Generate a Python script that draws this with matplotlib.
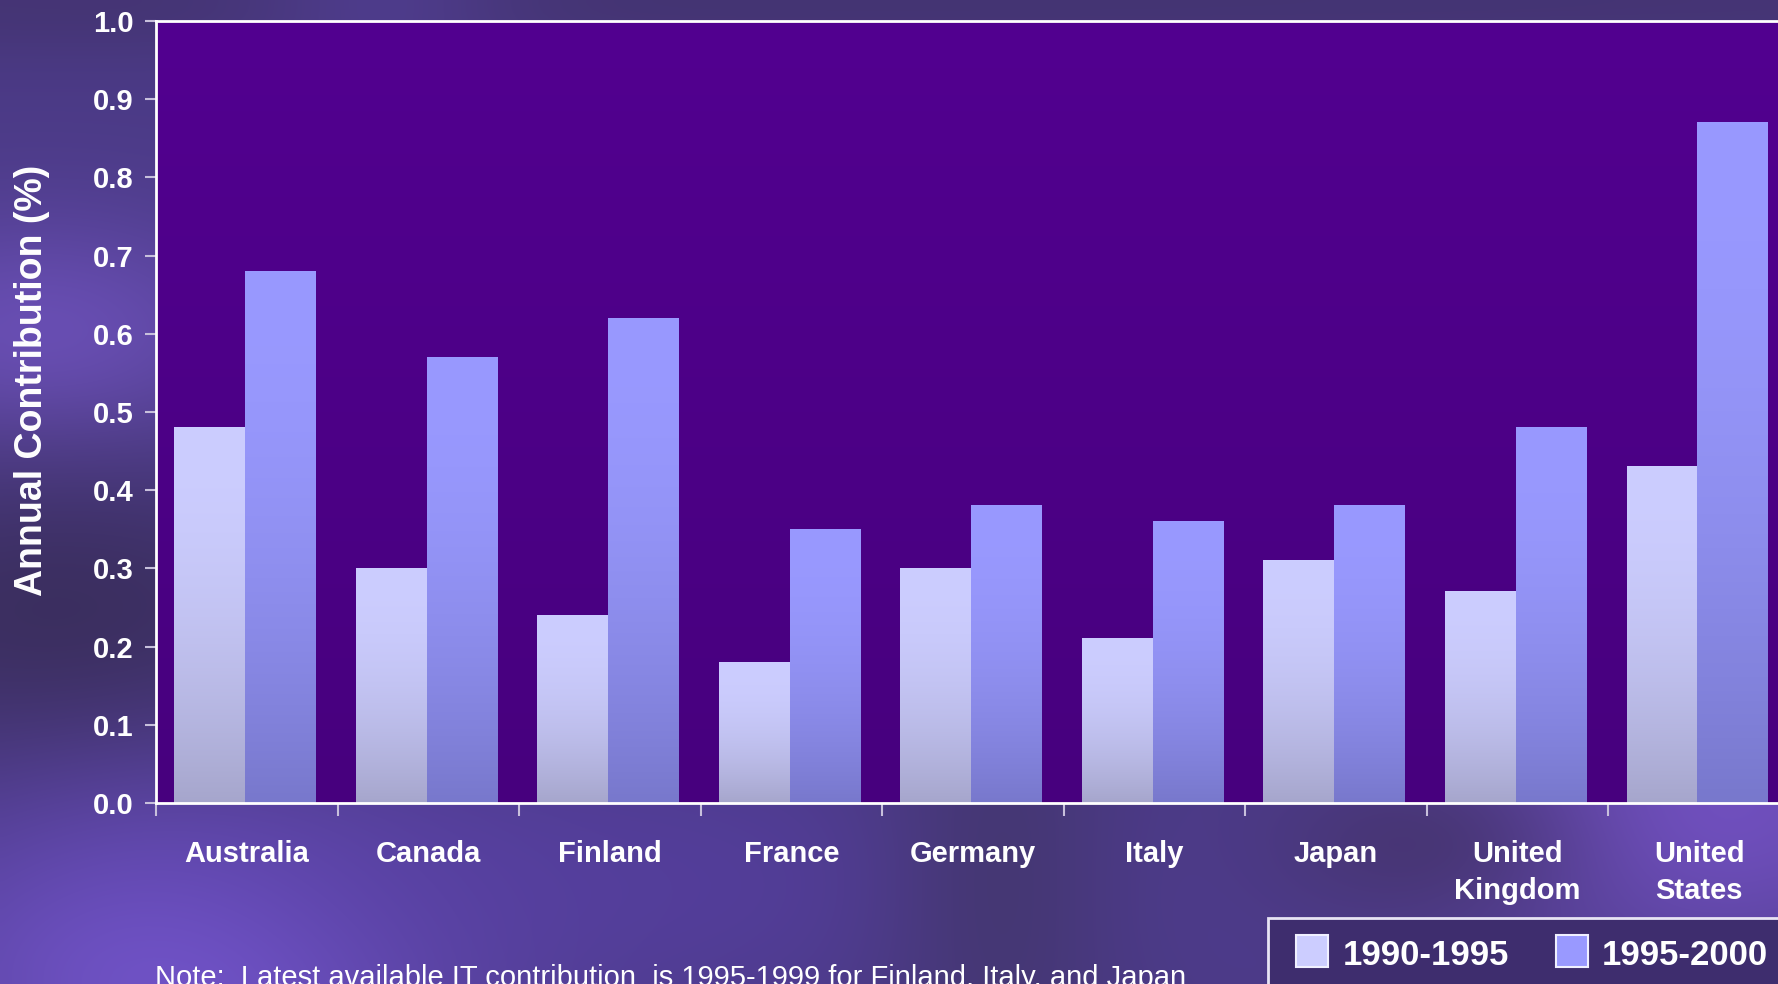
import numpy as np
import matplotlib.pyplot as plt
from matplotlib.colors import to_rgb
from matplotlib.lines import Line2D

# --- IT contribution to annual growth, by country and period
countries = ['Australia', 'Canada', 'Finland', 'France', 'Germany',
             'Italy', 'Japan', 'United\nKingdom', 'United\nStates']
early = [0.48, 0.30, 0.24, 0.18, 0.30, 0.21, 0.31, 0.27, 0.43]   # 1990-1995
late = [0.68, 0.57, 0.62, 0.35, 0.38, 0.36, 0.38, 0.48, 0.87]    # 1995-2000
periods = ['1990-1995', '1995-2000']
note = 'Note:  Latest available IT contribution  is 1995-1999 for Finland, Italy, and Japan'

W, H = 1778, 984
plt.rcParams['font.family'] = ['Liberation Sans', 'DejaVu Sans']


def vgrad(top, bottom, n=200, power=1.0):
    # column of colours running from top to bottom
    t = np.linspace(0, 1, n)[:, None] ** power
    top, bottom = np.array(to_rgb(top)), np.array(to_rgb(bottom))
    return (top * (1 - t) + bottom * t)[:, None, :]


def backdrop():
    yy, xx = np.mgrid[0:H:6, 0:W:6].astype(float)
    img = np.ones(xx.shape + (3,)) * np.array(to_rgb('#4b3a86'))
    blobs = [
        (900, 0, 2000, 40, '#43336f', 0.8),
        (380, 0, 90, 60, '#54409a', 0.6),
        (40, 340, 160, 90, '#6e52bc', 0.9),
        (60, 620, 220, 120, '#392d5a', 0.9),
        (180, 960, 200, 120, '#7a5ad5', 0.9),
        (600, 880, 400, 100, '#5840a6', 0.6),
        (1000, 880, 90, 200, '#413568', 0.7),
        (1720, 800, 180, 120, '#7452c4', 0.9),
        (1420, 840, 110, 60, '#433269', 0.7),
    ]
    for cx, cy, sx, sy, col, s in blobs:
        w = s * np.exp(-0.5 * (((xx - cx) / sx) ** 2 + ((yy - cy) / sy) ** 2))
        img = img * (1 - w[..., None]) + np.array(to_rgb(col)) * w[..., None]
    return img


fig = plt.figure(figsize=(W / 100, H / 100), dpi=100)

bg = fig.add_axes([0, 0, 1, 1], zorder=-10)
bg.imshow(backdrop(), aspect='auto', interpolation='bicubic', extent=[0, 1, 0, 1])
bg.axis('off')

ax = fig.add_axes([156 / W, 1 - 803 / H, (1790 - 156) / W, (803 - 21) / H])
x = np.arange(len(countries))
bw = 0.39

ax.imshow(vgrad('#520090', '#47007e'), aspect='auto', extent=[-0.5, 8.5, 0, 1], zorder=0)

styles = [('#cccdff', '#a6a6cc'), ('#9999ff', '#7878cc')]
handles = []
for vals, off, (top, bot), lab in zip([early, late], [-0.205, 0.185], styles, periods):
    bars = ax.bar(x + off, vals, bw, color=top, zorder=1)
    for b in bars:
        x0, y0 = b.get_xy()
        ax.imshow(vgrad(top, bot, power=2.0), aspect='auto', zorder=2,
                  extent=[x0, x0 + b.get_width(), y0, y0 + b.get_height()])
    handles.append(Line2D([], [], linestyle='none', marker='s', markersize=23,
                          markerfacecolor=top, markeredgecolor='#f0f0ff',
                          markeredgewidth=1.5, label=lab))

ax.set_xlim(-0.5, 8.5)
ax.set_ylim(0, 1)
ax.set_yticks(np.arange(0, 1.01, 0.1))
ax.set_yticklabels([f'{v:.1f}' for v in np.arange(0, 1.01, 0.1)])
ax.set_xticks(x)
ax.set_xticklabels(countries, linespacing=1.4)
ax.set_xticks(np.arange(-0.5, 9, 1), minor=True)

for s in ax.spines.values():
    s.set_color('white')
    s.set_linewidth(2)

ax.tick_params(axis='y', length=8, width=1.5, color='#c8c0dc', pad=8,
               labelsize=21, labelcolor='white')
ax.tick_params(axis='x', which='major', length=0, pad=27,
               labelsize=21, labelcolor='white')
ax.tick_params(axis='x', which='minor', length=9, width=1.5, color='#c8c0dc')
for lbl in ax.get_xticklabels() + ax.get_yticklabels():
    lbl.set_fontweight('bold')

fig.text(32 / W, 1 - 380 / H, 'Annual Contribution (%)', rotation=90,
         ha='center', va='center', fontsize=27, fontweight='bold', color='white')

fig.text(155 / W, -2 / H, note, ha='left', va='baseline', fontsize=21, color='white')

leg = fig.legend(handles=handles, loc='upper left', bbox_to_anchor=(1268 / W, 1 - 918 / H),
                 ncol=2, frameon=True, fancybox=False, fontsize=25,
                 handlelength=1.44, handleheight=1.0, handletextpad=0.15,
                 columnspacing=1.1, borderpad=0.55, borderaxespad=0)
leg.get_frame().set_facecolor('#3e2d6e')
leg.get_frame().set_edgecolor('#e8e4f4')
leg.get_frame().set_linewidth(2)
leg.get_frame().set_alpha(1)
for t in leg.get_texts():
    t.set_color('white')
    t.set_fontweight('bold')

fig.savefig('out.png', dpi=100)
